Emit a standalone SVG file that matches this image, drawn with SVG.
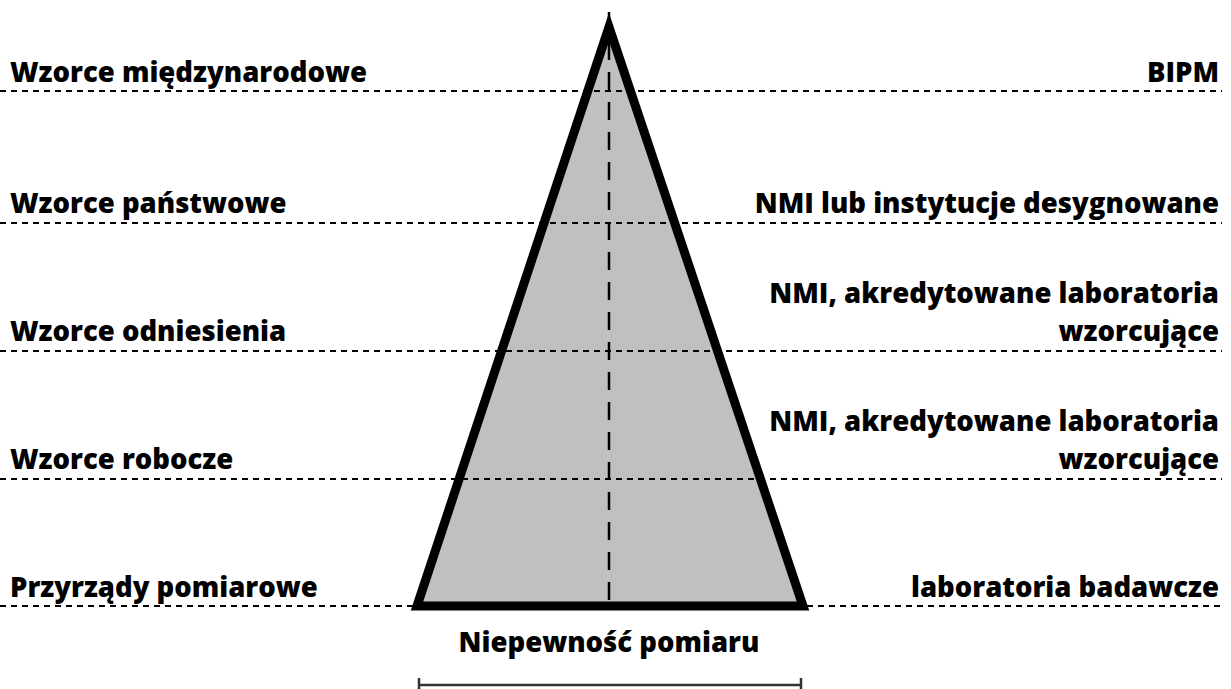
<svg xmlns="http://www.w3.org/2000/svg" width="1231" height="689" viewBox="0 0 1231 689">
  <style>
    .lbl { font-family: "Open Sans", "Noto Sans", "Liberation Sans", sans-serif; font-weight: 800; font-size: 27.5px; fill: #000; }
    .r { text-anchor: end; }
    .level { stroke: #000; stroke-width: 2; stroke-dasharray: 6 5; fill: none; }
    .axis { stroke: #000; stroke-width: 2.5; stroke-dasharray: 18 12; fill: none; }
  </style>
  <rect width="1231" height="689" fill="#fff"/>

  <!-- pyramid -->
  <g id="pyramid">
    <polygon points="609,27 417,606 803,606" fill="#c0c0c0" stroke="#000" stroke-width="9" stroke-linejoin="miter" stroke-miterlimit="10"/>
  </g>

  <!-- level separators and centre axis -->
  <g id="connectors">
    <line class="level" x1="0" y1="91" x2="1222" y2="91"/>
    <line class="level" x1="0" y1="223" x2="1222" y2="223"/>
    <line class="level" x1="0" y1="351" x2="1222" y2="351"/>
    <line class="level" x1="0" y1="479" x2="1222" y2="479"/>
    <line class="level" x1="0" y1="606" x2="413" y2="606"/>
    <line class="level" x1="807" y1="606" x2="1222" y2="606"/>
    <line class="axis" x1="609" y1="12" x2="609" y2="606"/>
  </g>

  <g id="level-1">
    <text class="lbl" x="10" y="82">Wzorce międzynarodowe</text>
    <text class="lbl r" x="1219" y="82">BIPM</text>
  </g>
  <g id="level-2">
    <text class="lbl" x="10" y="213">Wzorce państwowe</text>
    <text class="lbl r" x="1219" y="213">NMI lub instytucje desygnowane</text>
  </g>
  <g id="level-3">
    <text class="lbl" x="10" y="341">Wzorce odniesienia</text>
    <text class="lbl r" x="1219" y="303">NMI, akredytowane laboratoria</text>
    <text class="lbl r" x="1219" y="341">wzorcujące</text>
  </g>
  <g id="level-4">
    <text class="lbl" x="10" y="469">Wzorce robocze</text>
    <text class="lbl r" x="1219" y="431">NMI, akredytowane laboratoria</text>
    <text class="lbl r" x="1219" y="469">wzorcujące</text>
  </g>
  <g id="level-5">
    <text class="lbl" x="10" y="597">Przyrządy pomiarowe</text>
    <text class="lbl r" x="1219" y="597">laboratoria badawcze</text>
  </g>

  <!-- uncertainty scale -->
  <g id="uncertainty">
    <text class="lbl" x="609" y="652" text-anchor="middle">Niepewność pomiaru</text>
    <path d="M419,685 H801 M419,678 V689 M801,678 V689" stroke="#333" stroke-width="2.5" fill="none"/>
  </g>
</svg>
